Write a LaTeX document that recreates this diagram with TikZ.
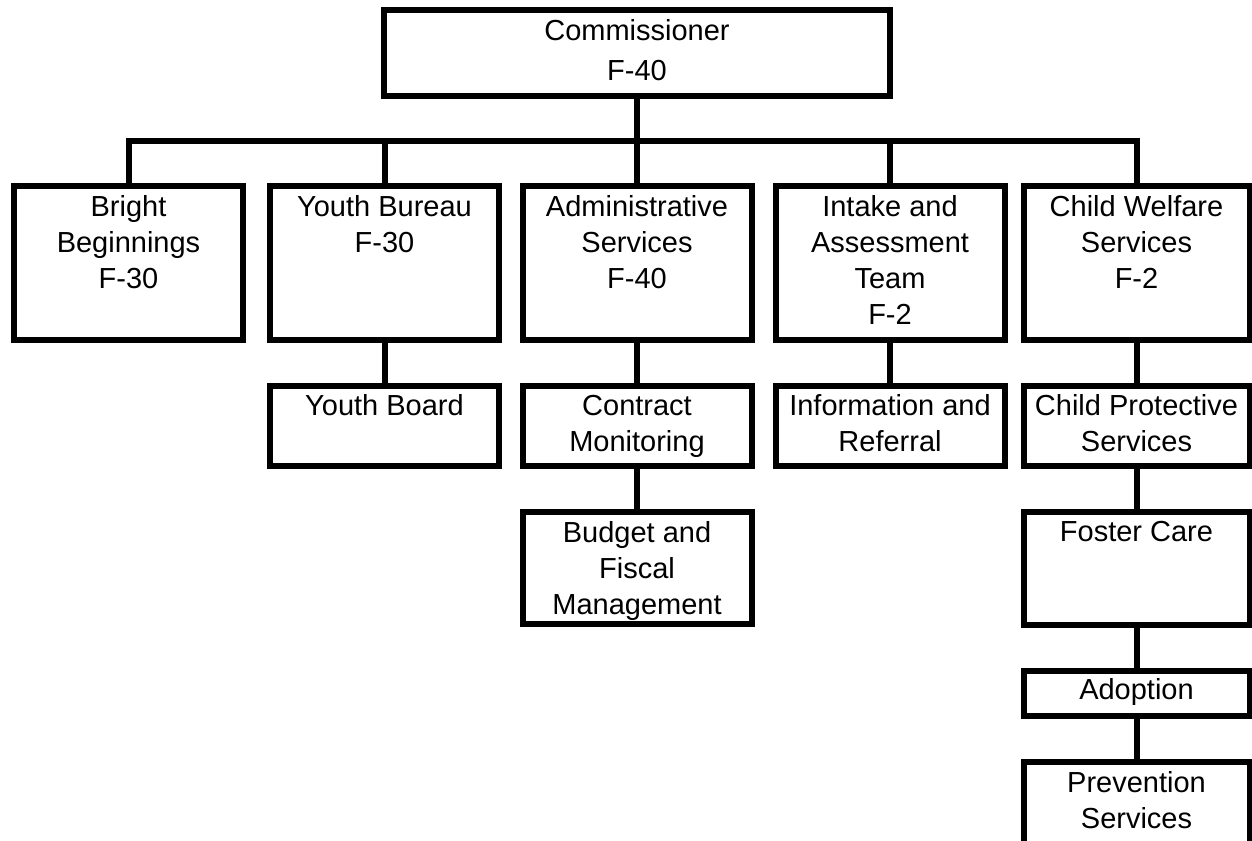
\documentclass[tikz,border=0pt]{standalone}
\usepackage{fontspec}
\setmainfont{Liberation Sans}
\usetikzlibrary{positioning}

\tikzset{
  orgbox/.style={draw, line width=4.5pt, inner sep=0pt, minimum width=171.75pt},
  orgtext/.style={inner sep=0pt, align=center, font=\fontsize{21.75pt}{27pt}\selectfont},
  link/.style={line width=4.5pt}
}

\begin{document}
\begin{tikzpicture}[x=0.75pt,y=0.75pt,yscale=-1]
	\useasboundingbox (0,0) rectangle (1252,840);
	
	%Shape: Rectangle [top]
	\node [orgbox, minimum width=379.5pt, minimum height=64.5pt] (comm) at (637,53) {};
	%Shape: Rectangle [first row]
	\node [orgbox, minimum height=115.5pt] (bright) at (128.5,263) {};
	\node [orgbox, minimum height=115.5pt] (youth) at (384.5,263) {};
	\node [orgbox, minimum height=115.5pt] (admin) at (637,263) {};
	\node [orgbox, minimum height=115.5pt] (intake) at (890,263) {};
	\node [orgbox, minimum width=169.5pt, minimum height=115.5pt] (welfare) at (1136.5,263) {};
	%Shape: Rectangle [second row]
	\node [orgbox, minimum height=60pt] (board) at (384.5,425.5) {};
	\node [orgbox, minimum height=60pt] (contract) at (637,425.5) {};
	\node [orgbox, minimum height=60pt] (info) at (890,425.5) {};
	\node [orgbox, minimum width=169.5pt, minimum height=60pt] (protect) at (1136.5,425.5) {};
	%Shape: Rectangle [lower rows]
	\node [orgbox, minimum height=84.4pt] (budget) at (637,568) {};
	\node [orgbox, minimum width=169.5pt, minimum height=84.75pt] (foster) at (1136.5,568.5) {};
	\node [orgbox, minimum width=169.5pt, minimum height=33.75pt] (adopt) at (1136.5,693.5) {};
	\node [orgbox, minimum width=169.5pt, minimum height=62.25pt] (prevent) at (1136.5,803.5) {};
	
	%Straight Lines [bus]
	\coordinate (bus) at (637,141);
	\draw [link] (comm.south) -- (bus);
	\draw [link] (bright.north) |- (bus) -| (welfare.north);
	\draw [link] (youth.north) -- (youth.north |- bus);
	\draw [link] (admin.north) -- (bus);
	\draw [link] (intake.north) -- (intake.north |- bus);
	%Straight Lines [columns]
	\draw [link] (youth.south) -- (board.north);
	\draw [link] (admin.south) -- (contract.north);
	\draw [link] (contract.south) -- (budget.north);
	\draw [link] (intake.south) -- (info.north);
	\draw [link] (welfare.south) -- (protect.north);
	\draw [link] (protect.south) -- (foster.north);
	\draw [link] (foster.south) -- (adopt.north);
	\draw [link] (adopt.south) -- (prevent.north);
	
	% Text Node
	\node [orgtext, below=9.5pt of comm.north] (commtxt) {Commissioner\\[3pt]F-40};
	% Text Node
	\node [orgtext, below=9pt of bright.north] (brighttxt) {Bright\\Beginnings\\F-30};
	% Text Node
	\node [orgtext, below=9pt of youth.north] (youthtxt) {Youth Bureau\\F-30};
	% Text Node
	\node [orgtext, below=9pt of admin.north] (admintxt) {Administrative\\Services\\F-40};
	% Text Node
	\node [orgtext, below=9pt of intake.north] (intaketxt) {Intake and\\Assessment\\Team\\F-2};
	% Text Node
	\node [orgtext, below=9pt of welfare.north] (welfaretxt) {Child Welfare\\Services\\F-2};
	% Text Node
	\node [orgtext, below=9pt of board.north] (boardtxt) {Youth Board};
	% Text Node
	\node [orgtext, below=9pt of contract.north] (contracttxt) {Contract\\Monitoring};
	% Text Node
	\node [orgtext, below=9pt of info.north] (infotxt) {Information and\\Referral};
	% Text Node
	\node [orgtext, below=9pt of protect.north] (protecttxt) {Child Protective\\Services};
	% Text Node
	\node [orgtext, below=9pt of budget.north] (budgettxt) {Budget and\\Fiscal\\Management};
	% Text Node
	\node [orgtext, below=9pt of foster.north] (fostertxt) {Foster Care};
	% Text Node
	\node [orgtext, below=8pt of adopt.north] (adopttxt) {Adoption};
	% Text Node
	\node [orgtext, below=9pt of prevent.north] (preventtxt) {Prevention\\Services};
	
\end{tikzpicture}
\end{document}
